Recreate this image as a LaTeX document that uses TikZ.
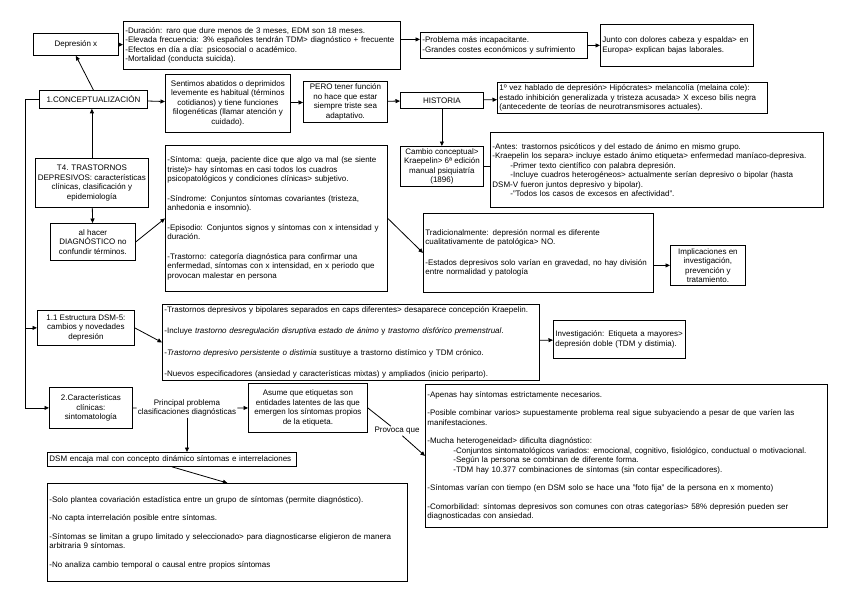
\documentclass[tikz,border=0pt]{standalone}
\usepackage{fontspec}
\setmainfont{Liberation Sans}
\usepackage{tikz}
\usetikzlibrary{arrows.meta,positioning}

\begin{document}
\begin{tikzpicture}[
  x=1pt,y=-1pt,
  font=\fontsize{8}{9.5}\selectfont,
  box/.style={draw,line width=0.8pt,inner sep=2pt,anchor=north west},
  cbox/.style={box,align=center},
  lbox/.style={box,align=left},
  arr/.style={-{Triangle[length=4.5pt,width=4pt]},line width=0.8pt},
  lin/.style={line width=0.8pt},
  tag/.style={fill=white,inner sep=1pt,align=center},
]
\fill[white] (0,0) rectangle (848,599);
\useasboundingbox (0,0) rectangle (848,599);

% top row
\node[cbox,minimum width=85pt,minimum height=22pt] (dep) at (33,33) {Depresión x};
\node[lbox,text width=273pt,minimum height=48pt] (dur) at (123,21) {
-Duración: raro que dure menos de 3 meses, EDM son 18 meses.\\
-Elevada frecuencia: 3\% españoles tendrán TDM> diagnóstico + frecuente\\
-Efectos en día a día: psicosocial o académico.\\
-Mortalidad (conducta suicida).};
\node[lbox,text width=163pt,minimum height=26pt] (prob) at (420,32) {
-Problema más incapacitante.\\
-Grandes costes económicos y sufrimiento};
\node[lbox,text width=149pt,minimum height=42pt] (junto) at (600,24) {
Junto con dolores cabeza y espalda> en\\
Europa> explican bajas laborales.};

% conceptualizacion
\node[cbox,minimum width=108pt,minimum height=18pt] (conc) at (39,90) {1.CONCEPTUALIZACIÓN};
\node[cbox,minimum width=125pt,minimum height=58pt] (sent) at (165,74) {
Sentimos abatidos o deprimidos\\levemente es habitual (términos\\cotidianos) y tiene funciones\\filogenéticas (llamar atención y\\cuidado).};
\node[cbox,minimum width=84pt,minimum height=41pt] (pero) at (303,81) {
PERO tener función\\no hace que estar\\siempre triste sea\\adaptativo.};
\node[cbox,minimum width=83pt,minimum height=16pt] (hist) at (400,92) {HISTORIA};
\node[lbox,text width=266pt,minimum height=31pt] (vez) at (497,82) {
1º vez hablado de depresión> Hipócrates> melancolía (melaina cole):\\
estado inhibición generalizada y tristeza acusada> X exceso bilis negra\\
(antecedente de teorías de neurotransmisores actuales).};
\node[cbox,minimum width=83pt,minimum height=38pt] (camb) at (400,146) {
Cambio conceptual>\\Kraepelin> 6ª edición\\manual psiquiatría\\(1896)};
\node[lbox,text width=329pt,minimum height=75pt] (antes) at (490,132) {
-Antes: trastornos psicóticos y del estado de ánimo en mismo grupo.\\
-Kraepelin los separa> incluye estado ánimo etiqueta> enfermedad maníaco-depresiva.\\
\hspace*{18pt}-Primer texto científico con palabra depresión.\\
\hspace*{18pt}-Incluye cuadros heterogéneos> actualmente serían depresivo o bipolar (hasta\\
DSM-V fueron juntos depresivo y bipolar).\\
\hspace*{18pt}-"Todos los casos de excesos en afectividad".};

% tema central
\node[cbox,minimum width=113pt,minimum height=49pt,inner sep=1pt] (t4) at (35,158) {
T4. TRASTORNOS\\DEPRESIVOS: características\\clínicas, clasificación y\\epidemiología};
\node[cbox,minimum width=85pt,minimum height=37pt] (alhacer) at (50,223) {
al hacer\\DIAGNÓSTICO no\\confundir términos.};
\node[lbox,text width=218pt,minimum height=146pt] (sint) at (165,145) {
-Síntoma: queja, paciente dice que algo va mal (se siente\\
triste)> hay síntomas en casi todos los cuadros\\
psicopatológicos y condiciones clínicas> subjetivo.\\[10pt]
-Síndrome: Conjuntos síntomas covariantes (tristeza,\\
anhedonia e insomnio).\\[10pt]
-Episodio: Conjuntos signos y síntomas con x intensidad y\\
duración.\\[10pt]
-Trastorno: categoría diagnóstica para confirmar una\\
enfermedad, síntomas con x intensidad, en x periodo que\\
provocan malestar en persona};
\node[lbox,text width=226pt,minimum height=79pt] (trad) at (423,213) {
Tradicionalmente: depresión normal es diferente\\
cualitativamente de patológica> NO.\\[11pt]
-Estados depresivos solo varían en gravedad, no hay división\\
entre normalidad y patología};
\node[cbox,minimum width=75pt,minimum height=40pt] (impl) at (670,245) {
Implicaciones en\\investigación,\\prevención y\\tratamiento.};

% DSM-5
\node[cbox,minimum width=97pt,minimum height=35pt] (est) at (37,310) {
1.1 Estructura DSM-5:\\cambios y novedades\\depresión};
\node[lbox,text width=373pt,minimum height=76pt] (dsm5) at (162,304) {
-Trastornos depresivos y bipolares separados en caps diferentes> desaparece concepción Kraepelin.\\[12pt]
-Incluye \textit{trastorno desregulación disruptiva estado de ánimo} y \textit{trastorno disfórico premenstrual}.\\[12pt]
-\textit{Trastorno depresivo persistente o distimia} sustituye a trastorno distímico y TDM crónico.\\[12pt]
-Nuevos especificadores (ansiedad y características mixtas) y ampliados (inicio periparto).};
\node[lbox,text width=128pt,minimum height=38pt] (inv) at (553,320) {
Investigación: Etiqueta a mayores>\\depresión doble (TDM y distimia).};

% caracteristicas clinicas
\node[cbox,minimum width=83pt,minimum height=41pt] (car) at (49,387) {
2.Características\\clínicas:\\sintomatología};
\node[cbox,minimum width=119pt,minimum height=49pt] (asume) at (248,383) {
Asume que etiquetas son\\entidades latentes de las que\\emergen los síntomas propios\\de la etiqueta.};
\node[lbox,text width=245pt,minimum height=14pt,inner ysep=1pt] (encaja) at (47,452) {
DSM encaja mal con concepto dinámico síntomas e interrelaciones};
\node[lbox,text width=398pt,minimum height=143pt] (prov) at (425,384) {
-Apenas hay síntomas estrictamente necesarios.\\[9pt]
-Posible combinar varios> supuestamente problema real sigue subyaciendo a pesar de que varíen las\\
manifestaciones.\\[9pt]
-Mucha heterogeneidad> dificulta diagnóstico:\\
\hspace*{26pt}-Conjuntos sintomatológicos variados: emocional, cognitivo, fisiológico, conductual o motivacional.\\
\hspace*{26pt}-Según la persona se combinan de diferente forma.\\
\hspace*{26pt}-TDM hay 10.377 combinaciones de síntomas (sin contar especificadores).\\[9pt]
-Síntomas varían con tiempo (en DSM solo se hace una "foto fija" de la persona en x momento)\\[9pt]
-Comorbilidad: síntomas depresivos son comunes con otras categorías> 58\% depresión pueden ser\\
diagnosticadas con ansiedad.};
\node[lbox,text width=356pt,minimum height=98pt] (bot) at (47,483) {
-Solo plantea covariación estadística entre un grupo de síntomas (permite diagnóstico).\\[9pt]
-No capta interrelación posible entre síntomas.\\[9pt]
-Síntomas se limitan a grupo limitado y seleccionado> para diagnosticarse eligieron de manera\\
arbitraria 9 síntomas.\\[9pt]
-No analiza cambio temporal o causal entre propios síntomas};

\node[tag] (pp) at (187,408) {Principal problema\\clasificaciones diagnósticas};
\node[tag] (pq) at (397,431) {Provoca que};

% connectors
\draw[arr] (dep) -- (dur);
\draw[arr] ([yshift=6pt]dur.east) -- ([yshift=6pt]prob.west);
\draw[arr] (prob) -- (junto);
\draw[arr] (conc.north) -- (dep.south);
\draw[arr] (conc) -- (sent);
\draw[arr] (sent) -- (pero);
\draw[arr] (pero) -- (hist);
\draw[arr] (hist) -- (vez);
\draw[arr] (hist) -- (camb);
\draw[lin] (camb.east) -- (camb.east -| antes.west);
\draw[arr] (t4.north) -- (t4.north |- conc.south);
\draw[arr] (t4) -- (alhacer);
\draw[arr] (alhacer.east) -- (sint.west);
\draw[arr] (sint.east) -- (trad.west);
\draw[arr] (trad.east |- impl) -- (impl);
\draw[arr] (conc.west) -- ++(-14,0) |- (est.west);
\draw[arr] (conc.west) -- ++(-14,0) |- (car.west);
\draw[arr] (est.east) -- (dsm5.west);
\draw[arr] (dsm5) -- (inv);
\draw[lin] (car) -- (pp);
\draw[arr] (pp) -- (asume);
\draw[arr] (pp.south) -- (pp.south |- encaja.north);
\draw[lin] (asume.east) -- (pq);
\draw[arr] (pq) -- (prov.west);
\draw[arr] (encaja.south) -- (bot.north);

\end{tikzpicture}
\end{document}
